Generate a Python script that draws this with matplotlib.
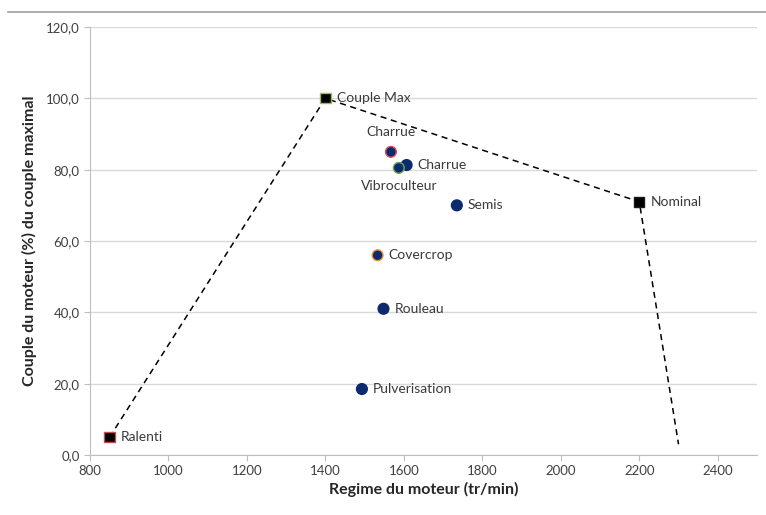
import matplotlib.pyplot as plt
from matplotlib.lines import Line2D
from matplotlib.ticker import FuncFormatter

plt.rcParams['font.family'] = ['Lato', 'DejaVu Sans']

# =========================================================
# Data
# =========================================================

# engine envelope (dashed line)
env_x = [850, 1400, 2200, 2300]
env_y = [5, 100, 71, 3]

# envelope key points
key_names = ["Ralenti", "Couple Max", "Nominal"]
key_x = [850, 1400, 2200]
key_y = [5, 100, 71]
key_edges = ["#c0504d", "#9bbb59", "#1a1a1a"]

# operations
op_names = ["Charrue", "Charrue", "Vibroculteur", "Semis", "Covercrop", "Rouleau", "Pulverisation"]
op_x = [1567, 1607, 1587, 1735, 1533, 1548, 1493]
op_y = [85, 81.3, 80.5, 70, 56, 41, 18.5]
op_edges = ["#e05050", "#0d2a6e", "#6aa84f", "#0d2a6e", "#e69138", "#0d2a6e", "#0d2a6e"]

# =========================================================
# Plot
# =========================================================

fig = plt.figure(figsize=(7.66, 5.15), dpi=100)
ax = fig.add_axes([90 / 766, 1 - 455 / 515, (757 - 90) / 766, (455 - 27) / 515])

ax.plot(env_x, env_y, color="black", linestyle=(0, (4, 3)), linewidth=1.1, zorder=2)
ax.scatter(key_x, key_y, marker="s", s=55, color="black", edgecolors=key_edges,
           linewidths=1, zorder=3)
ax.scatter(op_x, op_y, marker="o", s=60, color="#0d2a6e", edgecolors=op_edges,
           linewidths=1, zorder=3)

label_col = "#3a3a3a"
for name, x, y in zip(key_names, key_x, key_y):
    ax.annotate(name, (x, y), xytext=(8, 0), textcoords="offset points",
                va="center", fontsize=10, color=label_col)

offsets = [(0, 14, "center"), (8, 0, "left"), (0, -13, "center"),
           (8, 0, "left"), (8, 0, "left"), (8, 0, "left"), (8, 0, "left")]
for name, x, y, (dx, dy, ha) in zip(op_names, op_x, op_y, offsets):
    ax.annotate(name, (x, y), xytext=(dx, dy), textcoords="offset points",
                ha=ha, va="center", fontsize=10, color=label_col)

ax.set_xlim(800, 2500)
ax.set_ylim(0, 120)
ax.set_xticks(range(800, 2500, 200))
ax.set_yticks(range(0, 121, 20))
ax.yaxis.set_major_formatter(FuncFormatter(lambda v, p: f"{v:.1f}".replace(".", ",")))
ax.grid(axis="y", color="#d9d9d9", linewidth=1)
ax.set_axisbelow(True)

for s in ["top", "right"]:
    ax.spines[s].set_visible(False)
for s in ["left", "bottom"]:
    ax.spines[s].set_color("#bfbfbf")
ax.tick_params(axis="both", colors="#bfbfbf", labelcolor="#404040", labelsize=9.5, length=4)

ax.set_xlabel("Regime du moteur (tr/min)", fontsize=11.5, fontweight="bold", color="#262626",
              labelpad=3)
ax.set_ylabel("Couple du moteur (%) du couple maximal", fontsize=11.5, fontweight="bold",
              color="#262626", labelpad=6)

# top border line of the screenshot
fig.add_artist(Line2D([8 / 766, 1], [1 - 12 / 515, 1 - 12 / 515], color="#a0a0a0",
                      linewidth=1.2, transform=fig.transFigure))

plt.savefig("out.png", dpi=100)
